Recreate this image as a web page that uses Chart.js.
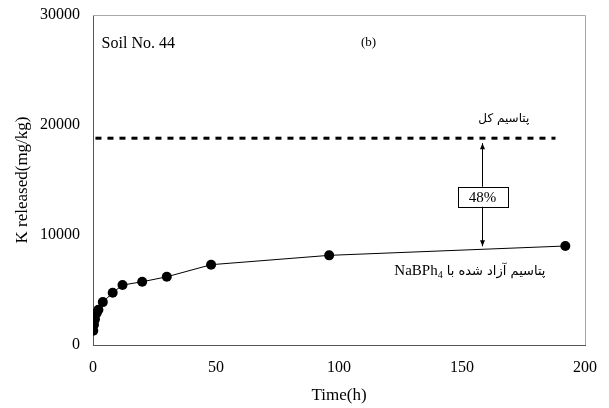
<!DOCTYPE html>
<html>
<head>
<meta charset="utf-8">
<script src="https://cdn.jsdelivr.net/npm/chart.js@4"></script>
<style>
html,body{margin:0;padding:0;background:#fff;}
#wrap{width:609px;height:408px;position:relative;}
</style>
</head>
<body>
<div id="wrap"><canvas id="c" width="609" height="408"></canvas></div>
<script>
// ---- data ----
const timeHours = [0.1, 0.4, 0.8, 1.5, 2.2, 4, 8, 12, 20, 30, 48, 96, 192];
const kReleased = [1300, 1850, 2350, 2900, 3200, 3900, 4750, 5450, 5750, 6200, 7300, 8150, 9000];
const totalK = 18800;
const totalKRange = [1, 188];
const xTicks = [0, 50, 100, 150, 200];
const yTicks = [0, 10000, 20000, 30000];
const percentLabel = '48%';
const arrowAtTime = 158;
const labelTotal = 'پتاسیم کل';
const labelReleased = 'پتاسیم آزاد شده با';
const soilLabel = 'Soil No. 44';
const panelLabel = '(b)';

const SERIF = '"Liberation Serif", "Times New Roman", "DejaVu Serif", serif';
const ARAB = '"DejaVu Sans", "Noto Sans", sans-serif';

const annot = {
  id: 'annot',
  afterDatasetsDraw(chart) {
    const {ctx, chartArea: a, scales: {x, y}} = chart;
    ctx.save();
    // top & right frame (light gray)
    ctx.strokeStyle = '#a8a8a8';
    ctx.lineWidth = 1;
    ctx.beginPath();
    ctx.moveTo(a.left, a.top + 0.5);
    ctx.lineTo(a.right + 0.5, a.top + 0.5);
    ctx.lineTo(a.right + 0.5, a.bottom);
    ctx.stroke();

    // arrow
    const ax = Math.round(x.getPixelForValue(arrowAtTime)) + 0.5;
    const yTop = y.getPixelForValue(totalK) + 5;
    const lineAtArrow = kReleased[11] + (kReleased[12] - kReleased[11]) * (arrowAtTime - timeHours[11]) / (timeHours[12] - timeHours[11]);
    const yBot = y.getPixelForValue(lineAtArrow) - 3;
    ctx.strokeStyle = '#000';
    ctx.fillStyle = '#000';
    ctx.beginPath();
    ctx.moveTo(ax, yTop);
    ctx.lineTo(ax, yBot);
    ctx.stroke();
    ctx.beginPath();
    ctx.moveTo(ax, yTop); ctx.lineTo(ax - 2.5, yTop + 6); ctx.lineTo(ax + 2.5, yTop + 6); ctx.closePath(); ctx.fill();
    ctx.beginPath();
    ctx.moveTo(ax, yBot); ctx.lineTo(ax - 2.5, yBot - 6); ctx.lineTo(ax + 2.5, yBot - 6); ctx.closePath(); ctx.fill();

    // 48% box
    const bw = 50, bh = 20;
    const bcy = (yTop + yBot) / 2 + 2;
    ctx.fillStyle = '#fff';
    ctx.fillRect(ax - bw / 2, bcy - bh / 2, bw, bh);
    ctx.strokeRect(Math.round(ax - bw / 2) + 0.5, Math.round(bcy - bh / 2) + 0.5, bw, bh);
    ctx.fillStyle = '#000';
    ctx.font = '15px ' + SERIF;
    ctx.textAlign = 'center';
    ctx.textBaseline = 'middle';
    ctx.fillText(percentLabel, ax, bcy + 1);

    // labels
    ctx.font = '16px ' + SERIF;
    ctx.textAlign = 'left';
    ctx.fillText(soilLabel, x.getPixelForValue(3.5), y.getPixelForValue(27350));
    ctx.font = '13px ' + SERIF;
    ctx.textAlign = 'center';
    ctx.fillText(panelLabel, x.getPixelForValue(112), y.getPixelForValue(27500));

    ctx.font = '12px ' + ARAB;
    ctx.direction = 'rtl';
    ctx.textAlign = 'center';
    ctx.fillText(labelTotal, x.getPixelForValue(167), y.getPixelForValue(20600));

    // NaBPh4 + persian text
    const baseY = y.getPixelForValue(6700);
    ctx.direction = 'ltr';
    ctx.textAlign = 'left';
    ctx.font = '15px ' + SERIF;
    const startX = x.getPixelForValue(122.5);
    ctx.fillText('NaBPh', startX, baseY);
    const w1 = ctx.measureText('NaBPh').width;
    ctx.font = '10px ' + SERIF;
    ctx.fillText('4', startX + w1, baseY + 4);
    ctx.font = '13px ' + ARAB;
    ctx.fillText(labelReleased, startX + w1 + 9, baseY);
    ctx.restore();
  }
};

new Chart(document.getElementById('c'), {
  type: 'scatter',
  data: {
    datasets: [
      {
        data: timeHours.map((t, i) => ({x: t, y: kReleased[i]})),
        showLine: true,
        borderColor: '#000',
        backgroundColor: '#000',
        borderWidth: 1,
        pointRadius: 5,
        pointBackgroundColor: '#000',
        pointBorderWidth: 0,
        order: 1
      },
      {
        data: totalKRange.map(t => ({x: t, y: totalK})),
        showLine: true,
        borderColor: '#000',
        borderWidth: 3,
        borderDash: [6, 6],
        pointRadius: 0,
        order: 2
      }
    ]
  },
  options: {
    responsive: false,
    animation: false,
    layout: {padding: {left: 0, right: 24, top: 15, bottom: 0}},
    plugins: {legend: {display: false}, tooltip: {enabled: false}},
    scales: {
      x: {
        type: 'linear', min: 0, max: 200,
        afterBuildTicks: s => { s.ticks = xTicks.map(v => ({value: v})); },
        afterFit: s => { s.height = 63; s.paddingLeft = 0; s.paddingRight = 0; },
        grid: {display: false, drawOnChartArea: false, drawTicks: true, tickLength: 5, tickColor: '#555'},
        border: {display: true, color: '#555', width: 1},
        ticks: {color: '#000', font: {family: SERIF, size: 16}, padding: 8, maxRotation: 0},
        title: {display: true, text: 'Time(h)', color: '#000', font: {family: SERIF, size: 17}, padding: {top: 0, bottom: 2}}
      },
      y: {
        type: 'linear', min: 0, max: 30000,
        afterBuildTicks: s => { s.ticks = yTicks.map(v => ({value: v})); },
        afterFit: s => { s.width = 93; s.paddingTop = 0; s.paddingBottom = 0; },
        grid: {display: false, drawOnChartArea: false, drawTicks: true, tickLength: 5, tickColor: '#555'},
        border: {display: true, color: '#555', width: 1},
        ticks: {color: '#000', font: {family: SERIF, size: 16}, padding: 8, callback: v => String(v)},
        title: {display: true, text: 'K released(mg/kg)', color: '#000', font: {family: SERIF, size: 17}, padding: {top: 12, bottom: 0}}
      }
    }
  },
  plugins: [annot]
});
</script>
</body>
</html>
